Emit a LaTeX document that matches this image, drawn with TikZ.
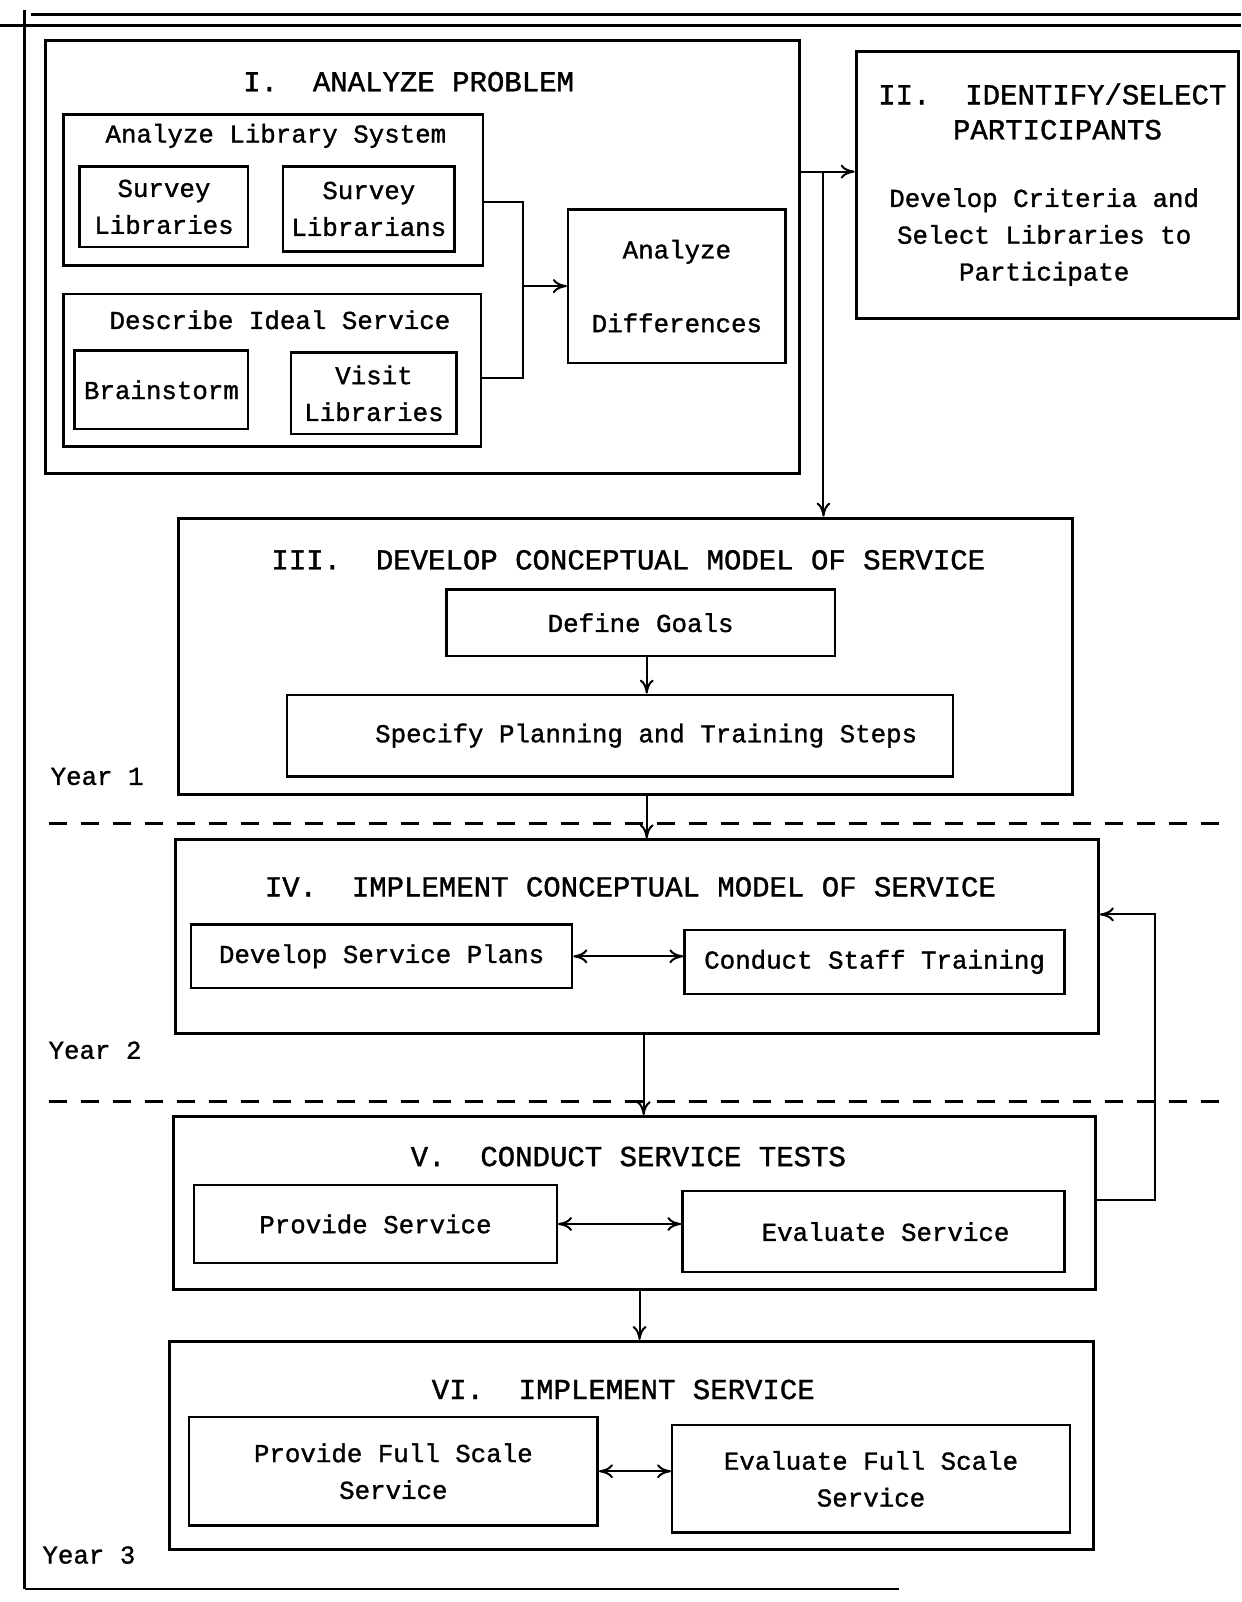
\documentclass[tikz,border=0pt]{standalone}
\usepackage{fontspec}
\setmainfont[FakeBold=1.2]{Liberation Mono}
\usetikzlibrary{arrows.meta}
\newcommand\fsbody{\fontsize{12.9pt}{18.4pt}\selectfont}
\newcommand\fstitle{\fontsize{14.5pt}{18pt}\selectfont}
% \bx{name}{x1}{y1}{x2}{y2}{style}{text}
\newcommand\bx[7]{\node[#6,minimum width={(#4-#2)*0.5107pt},minimum height={(#5-#3)*0.5107pt}] (#1) at ({(#2+#4)/2},{(#3+#5)/2}) {#7};}
\begin{document}
\begin{tikzpicture}[x=0.5107pt,y=-0.5107pt,
  frame/.style={draw,line width=1.5pt,inner sep=0pt},
  subframe/.style={draw,line width=1.2pt,inner sep=0pt},
  leaf/.style={draw,line width=1.2pt,inner sep=0pt,align=center,font=\fsbody},
  ttl/.style={inner sep=0pt,align=center,font=\fstitle},
  txt/.style={inner sep=0pt,align=center,font=\fsbody},
  conn/.style={line width=1pt},
  arr/.style={line width=1pt,-{To[length=7pt,width=7pt]}},
  darr/.style={line width=1pt,{To[length=7pt,width=7pt]}-{To[length=7pt,width=7pt]}},
  dashline/.style={line width=1.2pt,dash pattern=on 9pt off 7pt},
  edge/.style={line width=1.2pt}
]
\fill[white] (0,0) rectangle (1215,1568);
\useasboundingbox (0,0) rectangle (1215,1568);

% outer frame
\draw[edge] (30,14) -- (1215,14);
\draw[edge] (0,25) -- (1215,25);
\draw[edge] (24,10) -- (24,1555);
\draw[edge] (24,1555) -- (880,1555);

% I
\bx{b1}{45}{40}{783}{463}{frame}{}
\node[ttl] (t1) at (400,80) {I.\ \ ANALYZE PROBLEM};
\bx{als}{62}{112}{473}{260}{subframe}{}
\node[txt] (talsx) at (270,133) {Analyze Library System};
\bx{sl}{78}{163}{243}{242}{leaf}{Survey\\Libraries}
\bx{sln}{277}{163}{445}{246}{leaf}{Survey\\Librarians}
\bx{dis}{62}{288}{471}{437}{subframe}{}
\node[txt] (tdis) at (274,313) {Describe Ideal Service};
\bx{bs}{73}{343}{243}{420}{leaf}{Brainstorm}
\bx{vl}{285}{345}{447}{425}{leaf}{Visit\\Libraries}
\bx{ad}{556}{205}{769}{355}{leaf}{Analyze\\[18.4pt]Differences}

% II
\bx{b2}{838}{50}{1212}{312}{frame}{}
\node[ttl] (t2a) at (1030,92) {II.\ \ IDENTIFY/SELECT};
\node[ttl] (t2b) at (1035,127) {PARTICIPANTS};
\node[txt] (t2c) at (1022,232) {Develop Criteria and\\Select Libraries to\\Participate};

% III
\bx{b3}{175}{507}{1050}{778}{frame}{}
\node[ttl] (t3) at (615,548) {III.\ \ DEVELOP CONCEPTUAL MODEL OF SERVICE};
\bx{dg}{437}{577}{817}{642}{leaf}{Define Goals}
\bx{spts}{281}{680}{933}{760}{leaf}{\hspace*{26pt}Specify Planning and Training Steps}
\node[txt] (y1) at (95,760) {Year 1};

\draw[dashline] (48,806) -- (1200,806);

% IV
\bx{b4}{172}{822}{1075}{1012}{frame}{}
\node[ttl] (t4) at (617,868) {IV.\ \ IMPLEMENT CONCEPTUAL MODEL OF SERVICE};
\bx{dsp}{187}{905}{560}{967}{leaf}{Develop Service Plans}
\bx{cst}{670}{910}{1042}{973}{leaf}{Conduct Staff Training}
\node[txt] (y2) at (93,1028) {Year 2};

\draw[dashline] (48,1078) -- (1200,1078);

% V
\bx{b5}{170}{1093}{1072}{1262}{frame}{}
\node[ttl] (t5) at (615,1132) {V.\ \ CONDUCT SERVICE TESTS};
\bx{ps}{190}{1160}{545}{1236}{leaf}{Provide Service}
\bx{es}{668}{1166}{1042}{1245}{leaf}{\hspace*{12pt}Evaluate Service}

% VI
\bx{b6}{166}{1313}{1070}{1517}{frame}{}
\node[ttl] (t6) at (610,1360) {VI.\ \ IMPLEMENT SERVICE};
\bx{pfs}{185}{1387}{585}{1493}{leaf}{Provide Full Scale\\Service}
\bx{efs}{658}{1395}{1047}{1500}{leaf}{Evaluate Full Scale\\Service}
\node[txt] (y3) at (87,1522) {Year 3};

% connectors
\coordinate (jA) at (512,198);
\coordinate (jB) at (512,370);
\draw[conn] (als.east|-jA) -- (jA) -- (jB) -- (dis.east|-jB);
\draw[arr] (jA|-ad.west) -- (ad.west);

\coordinate (jT) at (806,168);
\draw[arr] (b1.east|-jT) -- (b2.west|-jT);
\draw[arr] (jT) -- (jT|-b3.north);

\coordinate (xa) at (633,0);
\coordinate (xb) at (630,0);
\coordinate (xd) at (626,0);
\draw[arr] (xa|-dg.south) -- (xa|-spts.north);
\draw[arr] (xa|-b3.south) -- (xa|-b4.north);
\draw[arr] (xb|-b4.south) -- (xb|-b5.north);
\draw[arr] (xd|-b5.south) -- (xd|-b6.north);

\draw[darr] (dsp.east) -- (dsp.east-|cst.west);
\draw[darr] (ps.east) -- (ps.east-|es.west);
\draw[darr] (pfs.east) -- (pfs.east-|efs.west);

\coordinate (fb1) at (1130,1175);
\coordinate (fb2) at (1130,895);
\draw[arr] (b5.east|-fb1) -- (fb1) -- (fb2) -- (b4.east|-fb2);
\end{tikzpicture}
\end{document}
